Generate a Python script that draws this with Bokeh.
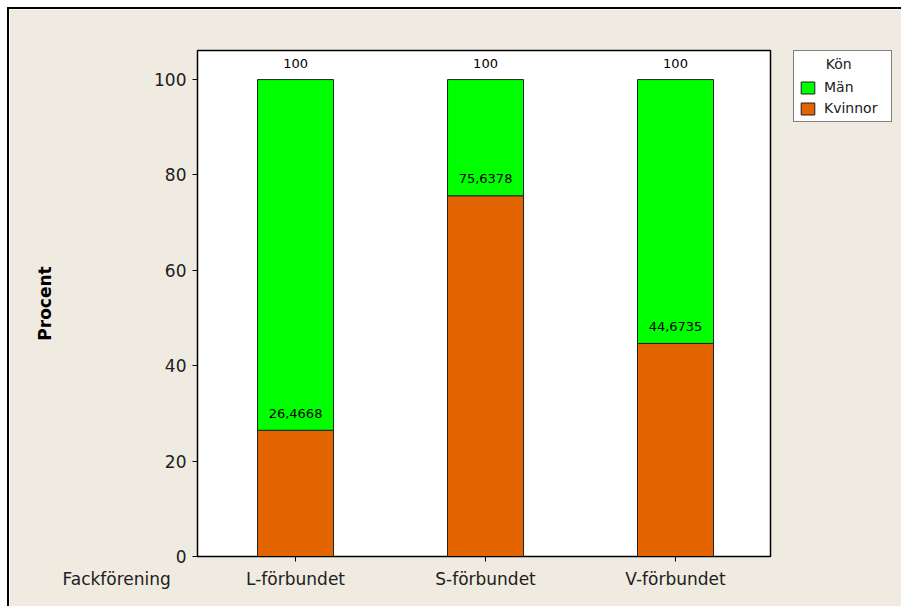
from bokeh.plotting import figure
from bokeh.models import (ColumnDataSource, LabelSet, Legend, LegendItem,
                          FixedTicker, Title)
from bokeh.core.properties import value
from bokeh.embed import file_html
from bokeh.resources import INLINE

categories = ["L-förbundet", "S-förbundet", "V-förbundet"]
kvinnor = [26.4668, 75.6378, 44.6735]
totals = [100, 100, 100]
y_ticks = [0, 20, 40, 60, 80, 100]
x_title = "Fackförening"

BG = "#EFEBE1"
GREEN = "#00FF00"
ORANGE = "#E46400"
FONT = "DejaVu Sans"

xs = [i + 1 for i in range(len(categories))]

src = ColumnDataSource(dict(
    x=xs, kv=kvinnor, tot=totals,
    kv_lab=[f"{v:.4f}".replace(".", ",") for v in kvinnor],
    tot_lab=[f"{t:g}" for t in totals],
    zero=[0] * len(xs),
))

p = figure(width=892, height=597, output_backend="svg", toolbar_location=None,
           x_range=(0.484, 3.5), y_range=(0, 106.1),
           frame_width=573, frame_height=506,
           min_border_left=188, min_border_top=41, min_border_bottom=50,
           min_border_right=131)
p.background_fill_color = "white"
p.border_fill_color = BG
p.outline_line_color = "black"
p.outline_line_width = 1.5
p.grid.visible = False

r_kv = p.vbar(x="x", width=0.4, bottom="zero", top="kv", source=src,
              fill_color=ORANGE, line_color="#202020", line_width=1)
r_man = p.vbar(x="x", width=0.4, bottom="kv", top="tot", source=src,
               fill_color=GREEN, line_color="#202020", line_width=1)

p.add_layout(LabelSet(x="x", y="kv", text="kv_lab", source=src, y_offset=17,
                      text_align="center", text_baseline="middle",
                      text_font=value(FONT), text_font_size="13px",
                      text_color="black"))
p.add_layout(LabelSet(x="x", y="tot", text="tot_lab", source=src, y_offset=16,
                      text_align="center", text_baseline="middle",
                      text_font=value(FONT), text_font_size="13px",
                      text_color="black"))

# axes
p.xaxis.ticker = FixedTicker(ticks=xs)
p.xaxis.major_label_overrides = {x: c for x, c in zip(xs, categories)}
p.yaxis.ticker = FixedTicker(ticks=y_ticks)
for ax in (p.xaxis, p.yaxis):
    ax.axis_line_color = "black"
    ax.major_tick_line_color = "black"
    ax.major_tick_in = 0
    ax.major_tick_out = 5
    ax.minor_tick_line_color = None
    ax.major_label_text_font = FONT
    ax.major_label_text_font_size = "17px"
    ax.major_label_text_color = "#202020"
p.xaxis.major_label_standoff = 7
p.yaxis.major_label_standoff = 6
p.yaxis.axis_label = "Procent"
p.yaxis.axis_label_text_font = FONT
p.yaxis.axis_label_text_font_size = "17px"
p.yaxis.axis_label_text_font_style = "bold"
p.yaxis.axis_label_text_color = "black"
p.yaxis.axis_label_standoff = 96

# legend (Kön)
legend = Legend(items=[LegendItem(label="Män", renderers=[r_man]),
                       LegendItem(label="Kvinnor", renderers=[r_kv])],
                title="\u00a0\u00a0\u00a0\u00a0\u00a0\u00a0Kön", location=(23, 434))
legend.title_text_font = FONT
legend.title_text_font_size = "14px"
legend.title_text_font_style = "normal"
legend.title_text_color = "#202020"
legend.title_standoff = 7
legend.label_text_font = FONT
legend.label_text_font_size = "14px"
legend.label_text_color = "#202020"
legend.border_line_color = "black"
legend.border_line_width = 1.5
legend.background_fill_color = "white"
legend.glyph_width = 17
legend.glyph_height = 15
legend.label_height = 15
legend.label_width = 62
legend.spacing = 5
legend.padding = 5
legend.margin = 0
legend.label_standoff = 8
p.add_layout(legend, "right")

# category-axis title, left of the tick labels, on the tick-label row
cat_title = Title(text=x_title, align="left", vertical_align="top",
                  offset=-135, standoff=-46, text_font=FONT,
                  text_font_size="17px", text_font_style="normal",
                  text_color="#202020")
p.add_layout(cat_title, "below")

p.styles = {"border-top": "2px solid black", "border-left": "2px solid black",
            "margin-left": "7px", "margin-top": "7px"}

open("out.html", "w").write(file_html(p, INLINE))
